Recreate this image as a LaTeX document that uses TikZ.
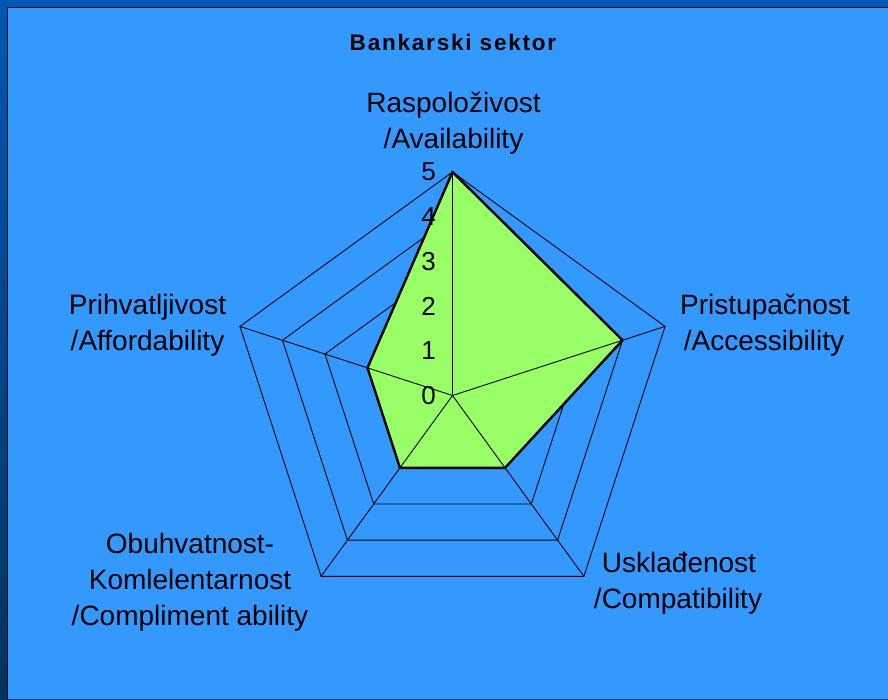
\documentclass[tikz,border=0pt]{standalone}
\usepackage{fontspec}
\setmainfont{Liberation Sans}
\newfontfamily\titlefont{Liberation Sans}[LetterSpace=8]
\definecolor{bgblue}{HTML}{3399FF}
\definecolor{bandtop}{HTML}{0058B4}
\definecolor{bandbot}{HTML}{00335F}
\definecolor{datagreen}{HTML}{99FF66}
\begin{document}
\begin{tikzpicture}[x=1pt,y=1pt,
  gridline/.style={black, line width=0.9pt},
  axisline/.style={black, line width=0.9pt},
  dataarea/.style={fill=datagreen, draw=none},
  dataedge/.style={black, line width=2.4pt, line join=round},
  ticklbl/.style={anchor=east, inner sep=0pt, font=\fontsize{26}{30}\selectfont},
  axislbl/.style={anchor=base, inner sep=0pt, font=\fontsize{28}{36}\selectfont},
  titlelbl/.style={anchor=base, inner sep=0pt, font=\titlefont\bfseries\fontsize{22.5}{26}\selectfont}]
\useasboundingbox (0,0) rectangle (888,699);
% background
\fill[top color=bandtop, bottom color=bandbot] (0,0) rectangle (888,699);
\fill[bgblue] (7.5,0) rectangle (888,691.5);
\draw[black, line width=1.3pt] (7.5,0) -- (7.5,691.5) -- (888,691.5);
% title
\node[titlelbl] (title) at (453,648) {Bankarski sektor};
\begin{scope}[shift={(452.5,303.5)}]
  \def\u{44.7}
  \coordinate (C) at (0,0);
  \coordinate (A1) at (90:5*\u);
  \coordinate (A2) at (18:5*\u);
  \coordinate (A3) at (-54:5*\u);
  \coordinate (A4) at (-126:5*\u);
  \coordinate (A5) at (162:5*\u);
  % grid pentagons
  \foreach \k in {1,...,5}{
    \draw[gridline] (90:\k*\u) -- (18:\k*\u) -- (-54:\k*\u) -- (-126:\k*\u) -- (162:\k*\u) -- cycle;
  }
  % data
  \coordinate (D1) at (90:5*\u);
  \coordinate (D2) at (18:4*\u);
  \coordinate (D3) at (-54:2*\u);
  \coordinate (D4) at (-126:2*\u);
  \coordinate (D5) at (162:2*\u);
  \fill[dataarea] (D1) -- (D2) -- (D3) -- (D4) -- (D5) -- cycle;
  % axes
  \foreach \a in {A1,A2,A3,A4,A5}{\draw[axisline] (C) -- (\a);}
  \draw[dataedge] (D1) -- (D2) -- (D3) -- (D4) -- (D5) -- cycle;
  % tick labels
  \foreach \k in {0,...,5}{
    \node[ticklbl] (t\k) at (-16.5,\k*\u) {\k};
  }
\end{scope}
% axis labels
\node[axislbl] (l1a) at (453.5,586) {Raspoloživost};
\node[axislbl] (l1b) at (453.5,550) {/Availability};
\node[axislbl] (l2a) at (765,384) {Pristupačnost};
\node[axislbl] (l2b) at (764,348) {/Accessibility};
\node[axislbl] (l3a) at (679,127) {Usklađenost};
\node[axislbl] (l3b) at (678,91) {/Compatibility};
\node[axislbl] (l4a) at (190,146) {Obuhvatnost-};
\node[axislbl] (l4b) at (190,110) {Komlelentarnost};
\node[axislbl] (l4c) at (190,74) {/Compliment ability};
\node[axislbl] (l5a) at (147.5,384) {Prihvatljivost};
\node[axislbl] (l5b) at (147.5,348) {/Affordability};
\end{tikzpicture}
\end{document}
